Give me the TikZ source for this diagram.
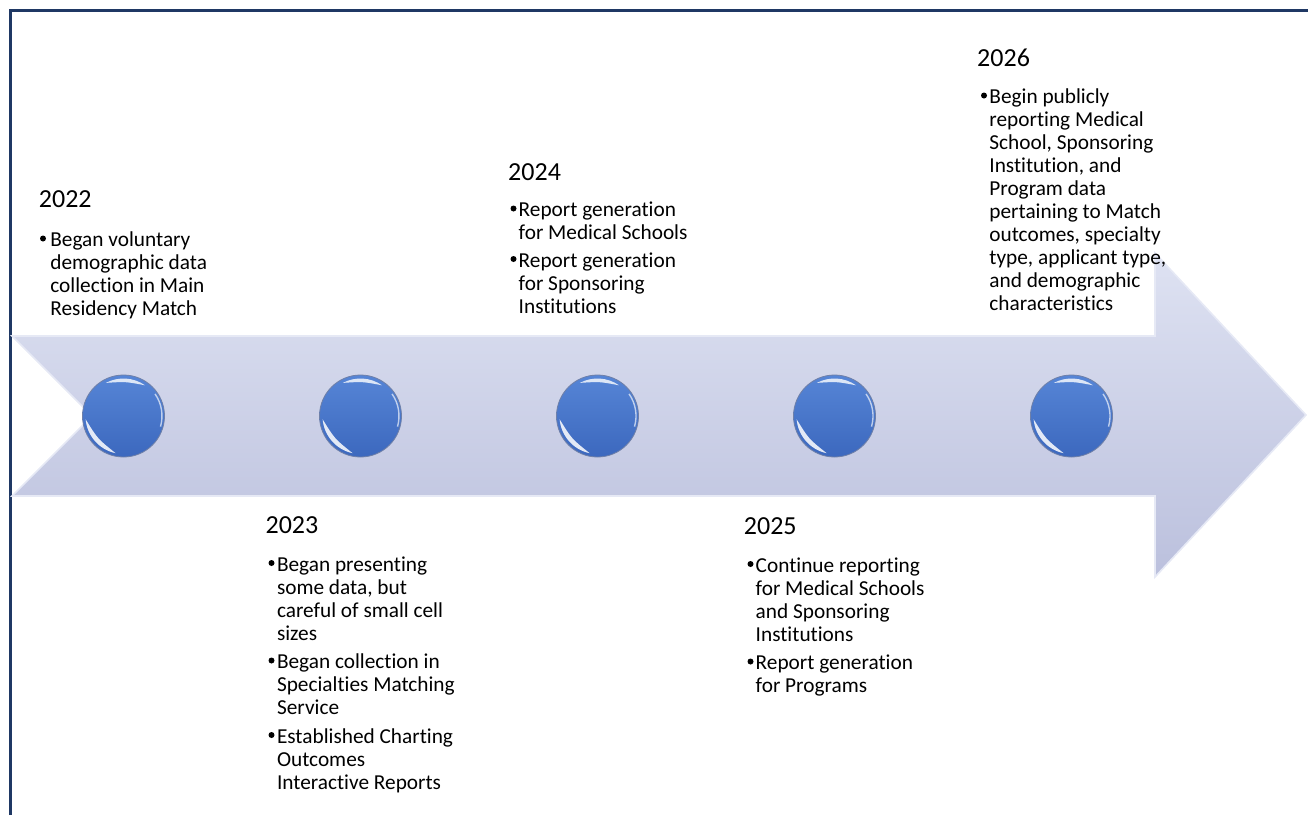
\documentclass[tikz,border=0pt]{standalone}
\usepackage{fontspec}
\setmainfont{Carlito}[Ligatures={NoCommon}]
\usetikzlibrary{calc}

\definecolor{framenavy}{HTML}{1F3864}
\definecolor{arrowtop}{HTML}{DEE2F2}
\definecolor{arrowbot}{HTML}{BBC0DD}
\definecolor{arrowedge}{HTML}{E6E9F5}
\definecolor{orbtop}{HTML}{5685D6}
\definecolor{orbbot}{HTML}{3C68BE}
\definecolor{orbrim}{HTML}{6F80A8}

\tikzset{
  frameline/.style={draw=framenavy, line width=3pt},
  timeline/.style={top color=arrowtop, bottom color=arrowbot},
  timeedge/.style={draw=arrowedge, line width=1.6pt, line join=miter},
  orb/.style={circle, minimum size=82pt, inner sep=0pt, draw=orbrim, line width=0.8pt,
    top color=orbtop, bottom color=orbbot,
    path picture={
      \coordinate (pc) at (path picture bounding box.center);
      % glint near the top
      \fill[white, opacity=.8] ($(pc)+(55:37.5)$) arc[start angle=55, end angle=118, radius=37.5]
        .. controls ($(pc)+(86.5:34.5)$) .. ($(pc)+(55:37.5)$) -- cycle;
      % thin reflection on the right rim
      \draw[white, opacity=.65, line width=1.4pt] ($(pc)+(-16:38.5)$) arc[start angle=-16, end angle=35, radius=38.5];
      % bright crescent at the lower left
      \fill[white, opacity=.85] ($(pc)+(185:38)$) arc[start angle=185, end angle=258, radius=38]
        .. controls ($(pc)+(221.5:34.5)$) .. ($(pc)+(185:38)$) -- cycle;
    }},
  yearlbl/.style={font=\fontsize{26}{31}\selectfont, anchor=base west, inner sep=0pt},
  itemtxt/.style={font=\fontsize{21.3}{23}\selectfont, align=left, anchor=north west, inner sep=0pt},
  itemdot/.style={circle, fill=black, inner sep=0pt, minimum size=6pt},
}

\begin{document}
\begin{tikzpicture}[x=1pt,y=1pt]
\useasboundingbox (0,0) rectangle (1308,-815);

% frame
\draw[frameline] (10.8,-815) -- (10.8,-10.8) -- (1308,-10.8);

% timeline arrow
\path[timeline, timeedge] (12,-336) -- (1155,-336) -- (1155,-253) -- (1306,-415) -- (1155,-577)
  -- (1155,-496) -- (12,-496) -- (92,-416) -- cycle;

% milestones
\node[orb] (m1) at (123.5,-416) {};
\node[orb] (m2) at (360.5,-416) {};
\node[orb] (m3) at (597.5,-416) {};
\node[orb] (m4) at (834.5,-416) {};
\node[orb] (m5) at (1071.5,-416) {};

% item text starts with a strut, so its top is 16.1pt above the first baseline
% 2022
\node[yearlbl] (y1) at (38.7,-207) {2022};
\node[itemdot] (d11) at (43,-238.5) {};
\node[itemtxt] (t11) at (50.2,-230.4) {\strut Began voluntary\\demographic data\\collection in Main\\Residency Match};

% 2023
\node[yearlbl] (y2) at (265.4,-533) {2023};
\node[itemdot] (d21) at (271.5,-563) {};
\node[itemtxt] (t21) at (276.8,-554.9) {\strut Began presenting\\some data, but\\careful of small cell\\sizes};
\node[itemdot] (d22) at (271.5,-660.5) {};
\node[itemtxt] (t22) at (276.8,-652.4) {\strut Began collection in\\Specialties Matching\\Service};
\node[itemdot] (d23) at (271.5,-735) {};
\node[itemtxt] (t23) at (276.8,-726.9) {\strut Established Charting\\Outcomes\\Interactive Reports};

% 2024
\node[yearlbl] (y3) at (508,-180) {2024};
\node[itemdot] (d31) at (513.5,-208.5) {};
\node[itemtxt] (t31) at (518.5,-200.4) {\strut Report generation\\for Medical Schools};
\node[itemdot] (d32) at (513.5,-259) {};
\node[itemtxt] (t32) at (518.5,-250.9) {\strut Report generation\\for Sponsoring\\Institutions};

% 2025
\node[yearlbl] (y4) at (743.7,-534) {2025};
\node[itemdot] (d41) at (750.5,-564) {};
\node[itemtxt] (t41) at (755.5,-555.9) {\strut Continue reporting\\for Medical Schools\\and Sponsoring\\Institutions};
\node[itemdot] (d42) at (750.5,-661.5) {};
\node[itemtxt] (t42) at (755.5,-653.4) {\strut Report generation\\for Programs};

% 2026
\node[yearlbl] (y5) at (977,-66) {2026};
\node[itemdot] (d51) at (984,-95.5) {};
\node[itemtxt] (t51) at (989.2,-87.4) {\strut Begin publicly\\reporting Medical\\School, Sponsoring\\Institution, and\\Program data\\pertaining to Match\\outcomes, specialty\\type, applicant type,\\and demographic\\characteristics};

\end{tikzpicture}
\end{document}
